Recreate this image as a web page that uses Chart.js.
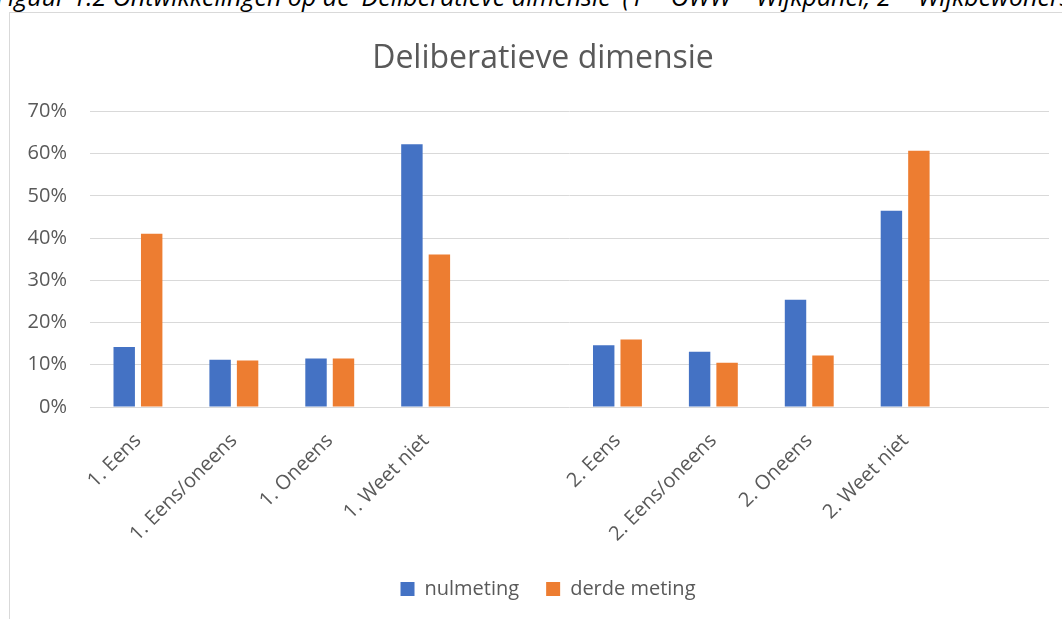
<!DOCTYPE html>
<html>
<head>
<meta charset="utf-8">
<script src="https://cdn.jsdelivr.net/npm/chart.js@4.4.0/dist/chart.umd.min.js"></script>
<style>
  html, body { margin: 0; padding: 0; background: #fff; overflow: hidden; }
  #wrap { position: relative; width: 1062px; height: 619px; }
  #caption {
    position: absolute; left: -4px; top: -21px; white-space: nowrap;
    font-family: "Open Sans", sans-serif; font-style: italic; font-size: 25px; color: #000;
  }
  #frame {
    position: absolute; left: 9px; top: 12px; width: 1100px; height: 700px;
    border: 1px solid #d9d9d9; background: #fff;
  }
  #chart { position: absolute; left: 0; top: 0; }
</style>
</head>
<body>
<div id="wrap">
  <div id="caption">Figuur 1.2 Ontwikkelingen op de 'Deliberatieve dimensie' (1 = OWW – Wijkpanel; 2 = Wijkbewoners)</div>
  <div id="frame"></div>
  <canvas id="chart" width="1062" height="619"></canvas>
</div>
<script>
// categorieën (lege plekken scheiden groep 1 en 2)
const categorieen = ['1. Eens', '1. Eens/oneens', '1. Oneens', '1. Weet niet', '',
                     '2. Eens', '2. Eens/oneens', '2. Oneens', '2. Weet niet', ''];
const nulmeting   = [14.2, 11.2, 11.5, 62.2, null, 14.6, 13.1, 25.4, 46.5, null];
const derdeMeting = [41.0, 11.0, 11.5, 36.1, null, 16.0, 10.5, 12.2, 60.7, null];
const yTicks = [0, 10, 20, 30, 40, 50, 60, 70];

const tekstKleur = '#595959';
const font = 'Open Sans';

// titel en legenda staan in Excel iets rechts van het midden van het canvas
const verschuifBlokken = {
    id: 'verschuifBlokken',
    afterLayout(chart) {
        if (chart.titleBlock) chart.titleBlock.left += 37;
        if (chart.legend) chart.legend.left += 47;
    }
};

const chart = new Chart(document.getElementById('chart').getContext('2d'), {
    type: 'bar',
    data: {
        labels: categorieen,
        datasets: [
            { label: 'nulmeting', data: nulmeting, backgroundColor: '#4472C4' },
            { label: 'derde meting', data: derdeMeting, backgroundColor: '#ED7D31' }
        ]
    },
    plugins: [verschuifBlokken],
    options: {
        responsive: false,
        animation: false,
        devicePixelRatio: 1,
        layout: { padding: { left: 0, right: 13, top: 0, bottom: 10 } },
        datasets: { bar: { categoryPercentage: 0.573, barPercentage: 0.78 } },
        plugins: {
            title: {
                display: true,
                text: 'Deliberatieve dimensie',
                color: tekstKleur,
                font: { family: font, size: 32, weight: 'normal' },
                padding: { top: 40, bottom: 33 }
            },
            legend: {
                position: 'bottom',
                labels: {
                    color: tekstKleur,
                    boxWidth: 14, boxHeight: 14,
                    padding: 27,
                    font: { family: font, size: 20 }
                }
            },
            tooltip: { enabled: false }
        },
        scales: {
            x: {
                grid: { display: false },
                border: { display: false },
                ticks: {
                    color: tekstKleur,
                    font: { family: font, size: 20 },
                    minRotation: 45, maxRotation: 45,
                    autoSkip: false,
                    padding: 14
                },
                afterFit: s => { s.height = 145; }
            },
            y: {
                min: 0, max: 70,
                grid: { color: '#d9d9d9', lineWidth: 1, drawTicks: false },
                border: { display: false },
                afterBuildTicks: s => { s.ticks = yTicks.map(v => ({ value: v })); },
                ticks: {
                    color: tekstKleur,
                    font: { family: font, size: 20 },
                    padding: 23,
                    callback: v => v + '%'
                },
                afterFit: s => { s.width = 90; }
            }
        }
    }
});
</script>
</body>
</html>
